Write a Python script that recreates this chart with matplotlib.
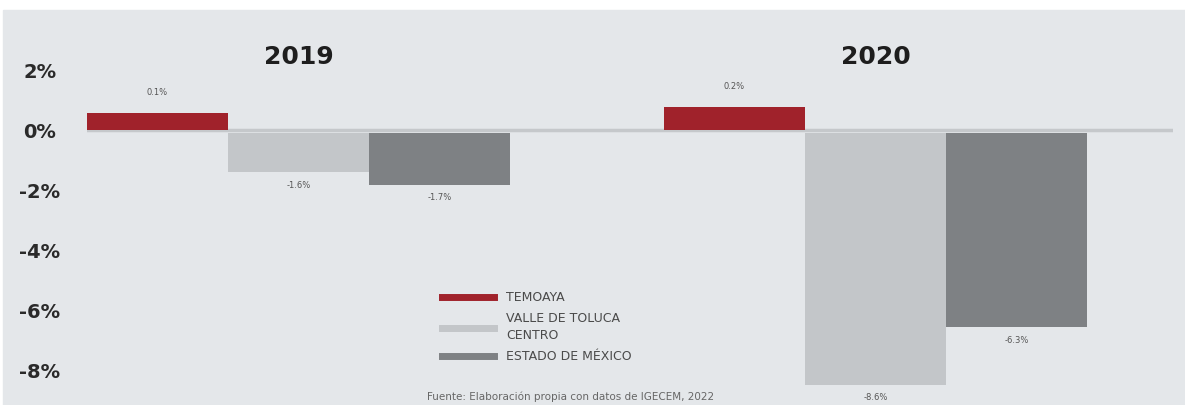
import numpy as np
import matplotlib
matplotlib.use("Agg")
import matplotlib.pyplot as plt
from matplotlib.lines import Line2D
from matplotlib.patches import Rectangle

# data (bar lengths as drawn, labels as printed)
years = ["2019", "2020"]
series = ["TEMOAYA", "VALLE DE TOLUCA\nCENTRO", "ESTADO DE MÉXICO"]
values_2019 = [0.57, -1.4, -1.83]
values_2020 = [0.77, -8.5, -6.57]
labels_2019 = ["0.1%", "-1.6%", "-1.7%"]
labels_2020 = ["0.2%", "-8.6%", "-6.3%"]
yticks = [2, 0, -2, -4, -6, -8]
source = "Fuente: Elaboración propia con datos de IGECEM, 2022"

colors = ["#a0222b", "#c3c6c9", "#7e8184"]
bg = "#e4e7ea"

W, H = 1185, 405
fig = plt.figure(figsize=(W / 100, H / 100), dpi=100, facecolor="white")
# grey panel behind everything
fig.patches.append(Rectangle((3 / W, 0), 1 - 3 / W, (H - 10) / H,
                             transform=fig.transFigure, color=bg, zorder=-10))

ax = fig.add_axes([87 / W, 0, (1173 - 87) / W, (H - 10) / H])
ax.set_zorder(5)
ax.set_facecolor("none")
ax.set_xlim(0, (1173 - 87) / 141)
ax.set_ylim(-(405 - 130) / 30, (130 - 10) / 30)

group_start = [0, (664 - 87) / 141]
all_vals = [values_2019, values_2020]
all_labels = [labels_2019, labels_2020]

ax.axhline(0, color="#c5c8cb", lw=2.5, zorder=1)

for g, (vals, labs) in enumerate(zip(all_vals, all_labels)):
    xs = group_start[g] + np.arange(len(vals)) + 0.5
    for i, (x, v, lab) in enumerate(zip(xs, vals, labs)):
        base = 0 if v > 0 else -0.1
        ax.bar(x, v - base, bottom=base, width=1.0, color=colors[i], zorder=2)
        off = 20 if v > 0 else -13
        ax.annotate(lab, (x, v), xytext=(0, off * 0.72), textcoords="offset points",
                    ha="center", va="center", fontsize=6, color="#555555")
    ax.text(xs.mean(), (130 - 57) / 30, years[g], ha="center", va="center",
            fontsize=18, fontweight="bold", color="#1e1e1e")

ax.set_yticks(yticks)
ax.set_yticklabels([f"{t}%" for t in yticks], fontsize=14, fontweight="bold",
                   color="#2a2a2a", ha="center")
ax.tick_params(axis="y", length=0, pad=34)
ax.set_xticks([])
for s in ax.spines.values():
    s.set_visible(False)

handles = [Line2D([0], [0], color=c, lw=5) for c in colors]
leg = ax.legend(handles, series, loc="upper left",
                bbox_to_anchor=((436 - 87) / (1173 - 87), 1 - (285 - 10) / 395),
                frameon=False, fontsize=9, handlelength=4.1, handletextpad=1.0,
                labelspacing=0.65, borderpad=0, labelcolor="#4a4a4a")
for t in leg.get_texts():
    t.set_linespacing(1.4)

fig.text(571 / W, 1 - 397 / H, source, ha="center", va="center",
         fontsize=7.5, color="#666666")

fig.savefig("out.png", dpi=100, facecolor=fig.get_facecolor())
